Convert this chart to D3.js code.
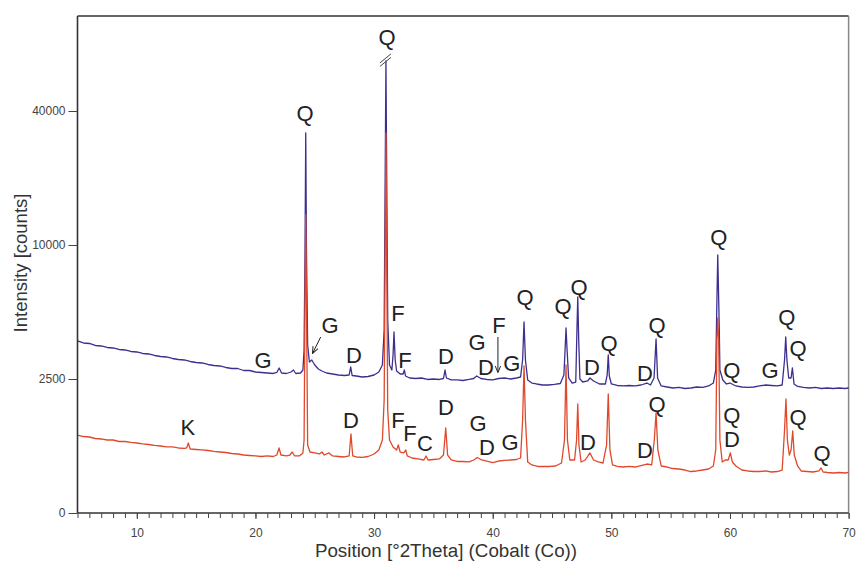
<!DOCTYPE html>
<html>
<head>
<meta charset="utf-8">
<script src="https://cdn.jsdelivr.net/npm/d3@7"></script>
<style>
  body { margin: 0; background: #fff; }
  svg text { font-family: "Liberation Sans", Arial, Helvetica, sans-serif; }
</style>
</head>
<body>
<svg id="chart" width="856" height="561"></svg>
<script>
// scan data: [2theta, counts]
var blueScan = [
  [5.0,4628],[5.5,4516],[6.0,4488],[6.5,4376],[7.0,4348],[7.5,4264],[8.0,4236],[8.5,4152],
  [9.0,4124],[9.5,4040],[10.0,4012],[10.5,3928],[11.0,3900],[11.5,3816],[12.0,3760],[12.5,3732],
  [13.0,3648],[13.5,3592],[14.0,3564],[14.5,3480],[15.0,3424],[15.5,3396],[16.0,3312],[16.5,3256],
  [17.0,3228],[17.5,3144],[18.0,3088],[18.5,3088],[19.0,2976],[19.5,2976],[20.0,2892],[20.5,2864],
  [21.0,2836],[21.5,2808],[21.8,2864],[22.0,3116],[22.2,2836],[22.6,2808],[23.0,2892],[23.2,3004],
  [23.4,2808],[23.8,2836],[24.0,3004],[24.1,4124],[24.18,9724],[24.24,35088],[24.3,9724],[24.4,4404],
  [24.55,3452],[24.75,3564],[25.0,3284],[25.3,3060],[25.6,2948],[26.0,2836],[26.5,2780],[27.0,2724],
  [27.5,2696],[27.9,2724],[28.03,3172],[28.15,2696],[28.5,2668],[29.0,2612],[29.5,2640],[30.0,2724],
  [30.4,2892],[30.7,3284],[30.85,5244],[30.95,31280],[31.0,51216],[31.05,31280],[31.15,5804],[31.3,3284],
  [31.5,3004],[31.6,3844],[31.68,5132],[31.78,3564],[31.9,2948],[32.2,2780],[32.45,2780],[32.55,3004],
  [32.65,2668],[33.0,2556],[33.5,2528],[34.0,2556],[34.5,2491],[35.0,2500],[35.5,2491],[35.85,2528],
  [35.98,3004],[36.1,2556],[36.5,2482],[37.0,2482],[37.5,2472],[38.0,2491],[38.4,2528],[38.65,2668],
  [39.0,2528],[39.5,2491],[40.0,2482],[40.5,2528],[41.0,2556],[41.5,2500],[42.0,2556],[42.35,2612],
  [42.52,3564],[42.64,5692],[42.76,3564],[42.95,2482],[43.3,2425],[43.7,2407],[44.2,2388],[44.7,2388],
  [45.2,2398],[45.7,2416],[46.0,2724],[46.1,4124],[46.18,5356],[46.27,4124],[46.4,2556],[46.7,2425],
  [47.0,2444],[47.1,5244],[47.17,7092],[47.25,4684],[47.35,2500],[47.6,2444],[48.0,2463],[48.2,2556],
  [48.5,2463],[49.0,2407],[49.5,2407],[49.65,2724],[49.74,3844],[49.83,2668],[50.0,2407],[50.5,2379],
  [51.0,2370],[51.5,2379],[52.0,2370],[52.5,2388],[53.0,2425],[53.3,2388],[53.6,2556],[53.77,4740],
  [53.9,2556],[54.2,2370],[54.7,2351],[55.2,2332],[55.7,2342],[56.2,2323],[56.7,2332],[57.2,2351],
  [57.7,2342],[58.2,2370],[58.6,2425],[58.8,3004],[58.9,6924],[58.97,9444],[59.05,6924],[59.1,5244],
  [59.15,3004],[59.4,2482],[59.7,2407],[60.0,2425],[60.5,2370],[61.0,2351],[61.5,2342],[62.0,2351],
  [62.5,2370],[63.0,2388],[63.5,2379],[64.0,2370],[64.4,2388],[64.6,3564],[64.7,4852],[64.8,3564],
  [64.95,2556],[65.15,2556],[65.26,3116],[65.4,2407],[65.7,2361],[66.2,2342],[66.7,2332],[67.2,2342],
  [67.7,2323],[68.2,2332],[68.7,2323],[69.2,2332],[69.7,2323],[70.0,2332]
];

var redScan = [
  [5.0,1455],[5.5,1427],[6.0,1418],[6.5,1390],[7.0,1381],[7.5,1362],[8.0,1362],[8.5,1334],
  [9.0,1334],[9.5,1316],[10.0,1306],[10.5,1288],[11.0,1278],[11.5,1260],[12.0,1250],[12.5,1232],
  [13.0,1232],[13.5,1213],[14.0,1204],[14.2,1213],[14.34,1306],[14.5,1194],[15.0,1185],[15.5,1176],
  [16.0,1166],[16.5,1148],[17.0,1138],[17.5,1129],[18.0,1110],[18.5,1101],[19.0,1082],[19.5,1073],
  [20.0,1064],[20.5,1054],[21.0,1064],[21.5,1054],[21.8,1082],[21.99,1213],[22.15,1082],[22.6,1064],
  [22.9,1082],[23.1,1138],[23.3,1064],[23.7,1064],[24.0,1120],[24.1,1362],[24.18,6924],[24.24,16720],
  [24.3,6924],[24.4,1269],[24.6,1138],[25.0,1120],[25.4,1101],[25.6,1138],[25.8,1082],[26.2,1120],
  [26.5,1064],[27.0,1054],[27.5,1045],[27.9,1064],[28.05,1474],[28.2,1064],[28.5,1045],[29.0,1036],
  [29.5,1054],[30.0,1101],[30.4,1176],[30.7,1362],[30.85,2109],[30.95,13360],[31.0,35088],[31.05,13360],
  [31.15,1922],[31.3,1362],[31.6,1232],[31.9,1176],[32.04,1269],[32.2,1138],[32.5,1120],[32.67,1176],
  [32.8,1064],[33.2,1026],[33.7,1008],[34.2,989],[34.38,1064],[34.55,989],[35.0,998],[35.5,1008],
  [35.85,1082],[36.04,1586],[36.2,1082],[36.5,989],[37.0,961],[37.5,961],[38.0,952],[38.4,989],
  [38.7,1036],[39.0,998],[39.5,970],[40.0,942],[40.5,970],[41.0,980],[41.5,989],[42.0,998],
  [42.35,1026],[42.52,1735],[42.64,3228],[42.76,1735],[42.95,952],[43.3,896],[43.8,868],[44.3,868],
  [44.8,868],[45.3,877],[45.8,933],[46.05,1362],[46.18,3284],[46.3,1362],[46.5,989],[46.9,989],
  [47.07,1362],[47.17,2034],[47.27,1269],[47.45,952],[47.8,989],[48.2,1120],[48.5,989],[48.9,952],
  [49.3,933],[49.6,1269],[49.74,2221],[49.88,1176],[50.1,896],[50.5,868],[51.0,858],[51.5,868],
  [52.0,858],[52.5,886],[53.0,914],[53.4,896],[53.62,1362],[53.77,1866],[53.92,1176],[54.2,877],
  [54.7,858],[55.2,830],[55.7,821],[56.2,802],[56.7,774],[57.2,784],[57.7,802],[58.2,821],
  [58.6,877],[58.8,1176],[58.9,4684],[58.97,5916],[59.05,4684],[59.15,1362],[59.35,952],[59.6,989],
  [59.85,989],[60.03,1120],[60.2,952],[60.5,877],[61.0,802],[61.5,784],[62.0,774],[62.5,774],
  [63.0,784],[63.5,765],[64.0,774],[64.4,802],[64.6,1549],[64.72,2127],[64.84,1362],[65.0,1082],
  [65.15,1176],[65.29,1530],[65.42,1082],[65.7,877],[66.0,784],[66.5,774],[67.0,765],[67.5,784],
  [67.68,840],[67.85,765],[68.2,756],[68.7,746],[69.2,756],[69.7,746],[70.0,756]
];

var xTicks = [10, 20, 30, 40, 50, 60, 70];
var yTicks = [0, 2500, 10000, 40000];

// phase labels: [letter, 2theta, counts]
var blueLabels = [
  ["Q",31.09,56592],["Q",24.18,39568],["Q",59.07,11792],["G",20.64,3564],["G",26.29,5524],
  ["D",28.31,3844],["F",32.02,6196],["F",32.61,3564],["D",36.06,3788],["G",38.68,4572],
  ["F",40.53,5524],["D",39.43,3172],["G",41.62,3396],["Q",42.72,7092],["Q",45.93,6588],
  ["Q",47.27,7652],["Q",49.8,4516],["D",48.37,3172],["Q",53.85,5524],["D",52.84,2836],
  ["Q",60.16,3004],["G",63.37,3004],["Q",64.8,5972],["Q",65.73,4236]
];
var redLabels = [
  ["K",14.31,1605],["D",28.05,1735],["F",32.02,1735],["F",33.03,1493],["C",34.29,1306],
  ["D",36.06,1978],["G",38.76,1679],["D",39.52,1232],["G",41.46,1325],["Q",53.85,2034],
  ["D",48.03,1325],["D",52.84,1176],["Q",60.16,1829],["D",60.16,1381],["Q",65.73,1791],
  ["Q",67.76,1120]
];
// arrows: [2theta from, counts from, 2theta to, counts to]
var arrows = [
  [25.5,4852,24.83,3956],
  [40.44,4852,40.44,2892]
];

var svg = d3.select("#chart");
var plotLeft = 77.5, plotRight = 848.6, plotTop = 16, plotBottom = 513, step = 134;

var x = d3.scaleLinear().domain([5, 70]).range([plotLeft, plotRight]);
var y = d3.scaleLinear().domain(yTicks).range(yTicks.map(function(d, i) { return plotBottom - i * step; }));

// frame
svg.append("line").attr("x1", plotLeft).attr("x2", plotRight).attr("y1", plotTop).attr("y2", plotTop)
   .attr("stroke", "#333").attr("stroke-width", 1.5);
svg.append("line").attr("x1", plotRight).attr("x2", plotRight).attr("y1", plotTop).attr("y2", plotBottom)
   .attr("stroke", "#888").attr("stroke-width", 1.5);

var line = d3.line().x(function(d) { return x(d[0]); }).y(function(d) { return y(d[1]); });

svg.append("path").datum(blueScan).attr("d", line)
   .attr("fill", "none").attr("stroke", "#3d2f8f").attr("stroke-width", 1.3).attr("stroke-linejoin", "round");
svg.append("path").datum(redScan).attr("d", line)
   .attr("fill", "none").attr("stroke", "#e0482c").attr("stroke-width", 1.3).attr("stroke-linejoin", "round");

// break mark on the big peak
var bx = x(31.0), by = y(51216);
[0, 3.5].forEach(function(o) {
  svg.append("line").attr("x1", bx - 6).attr("y1", by + 2 + o).attr("x2", bx + 5).attr("y2", by - 7 + o)
     .attr("stroke", "#444").attr("stroke-width", 1);
});

// axes
var minor = svg.append("g").attr("transform", "translate(0," + plotBottom + ")")
   .call(d3.axisBottom(x).tickValues(d3.range(5, 71)).tickSize(5).tickFormat(""));
var xAxis = svg.append("g").attr("transform", "translate(0," + plotBottom + ")")
   .call(d3.axisBottom(x).tickValues(xTicks).tickSize(6).tickPadding(9).tickFormat(d3.format("d")));
var yAxis = svg.append("g").attr("transform", "translate(" + plotLeft + ",0)")
   .call(d3.axisLeft(y).tickValues(yTicks).tickSize(9).tickPadding(3).tickFormat(d3.format("d")));

[minor, xAxis, yAxis].forEach(function(g) {
  g.select(".domain").attr("stroke", "#333").attr("stroke-width", 1.6);
  g.selectAll(".tick line").attr("stroke", "#444");
  g.selectAll(".tick text").attr("fill", "#444").attr("font-size", 12)
   .style("font-family", "'Liberation Sans', Arial, sans-serif");
});
xAxis.select(".domain").remove();
minor.select(".domain").attr("d", "M" + plotLeft + ",0H" + plotRight);
yAxis.select(".domain").attr("d", "M0," + plotBottom + "V" + plotTop);

// axis titles
svg.append("text").attr("x", 446).attr("y", 557).attr("text-anchor", "middle")
   .attr("font-size", 18.8).attr("fill", "#333").text("Position [°2Theta] (Cobalt (Co))");
svg.append("text").attr("transform", "translate(27,263) rotate(-90)").attr("text-anchor", "middle")
   .attr("font-size", 18.5).attr("fill", "#333").text("Intensity [counts]");

// phase letters
svg.selectAll("text.lab").data(blueLabels.concat(redLabels)).enter().append("text")
   .attr("class", "lab")
   .attr("x", function(d) { return x(d[1]); })
   .attr("y", function(d) { return y(d[2]) + 8; })
   .attr("text-anchor", "middle").attr("font-size", 22).attr("fill", "#222")
   .text(function(d) { return d[0]; });

// arrows
svg.append("defs").append("marker").attr("id", "head").attr("viewBox", "0 0 10 10")
   .attr("refX", 9).attr("refY", 5).attr("markerWidth", 7).attr("markerHeight", 7).attr("orient", "auto")
   .append("path").attr("d", "M0,1L10,5L0,9").attr("fill", "none").attr("stroke", "#222").attr("stroke-width", 1.4);
svg.selectAll("line.arrow").data(arrows).enter().append("line").attr("class", "arrow")
   .attr("x1", function(d) { return x(d[0]); }).attr("y1", function(d) { return y(d[1]); })
   .attr("x2", function(d) { return x(d[2]); }).attr("y2", function(d) { return y(d[3]); })
   .attr("stroke", "#222").attr("stroke-width", 1).attr("marker-end", "url(#head)");
</script>
</body>
</html>
